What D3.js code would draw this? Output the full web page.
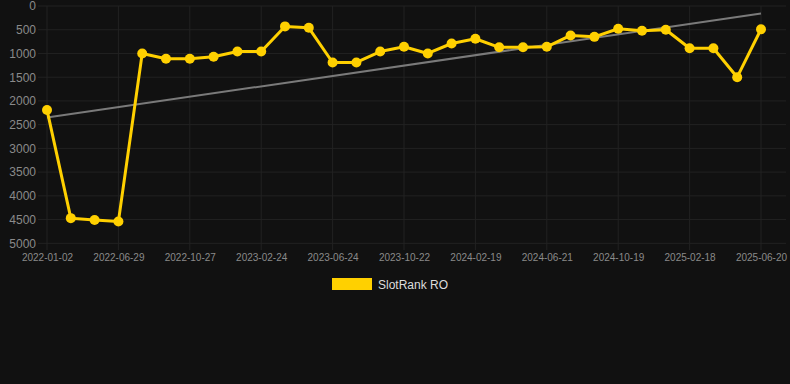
<!DOCTYPE html>
<html><head><meta charset="utf-8">
<script src="https://cdn.jsdelivr.net/npm/d3@7"></script>
<style>html,body{margin:0;padding:0;background:#111111;}svg{display:block;font-family:"Liberation Sans",Arial,Helvetica,sans-serif;}</style>
</head><body>
<svg id="c" width="790" height="384"></svg>
<script>
const dates = ["2022-01-02","2022-03-01","2022-04-30","2022-06-29","2022-08-08","2022-09-17","2022-10-27","2022-12-06","2023-01-15","2023-02-24","2023-04-05","2023-05-15","2023-06-24","2023-08-03","2023-09-12","2023-10-22","2023-12-01","2024-01-10","2024-02-19","2024-03-30","2024-05-11","2024-06-21","2024-07-31","2024-09-09","2024-10-19","2024-11-28","2025-01-08","2025-02-18","2025-03-30","2025-05-10","2025-06-20"];
const ranks = [2190,4470,4510,4540,1000,1110,1110,1070,960,960,430,460,1190,1190,960,860,1000,790,690,870,870,860,620,650,480,520,500,890,890,1500,490];
const trend = [2350,160];
const yTicks = [0,500,1000,1500,2000,2500,3000,3500,4000,4500,5000];
const seriesName = "SlotRank RO";

const svg = d3.select("#c");
const x = d3.scalePoint().domain(dates).range([47,761]);
const y = d3.scaleLinear().domain([0,5000]).range([6,243.3]);
const xTicks = dates.filter((d,i)=>i%3===0);

const grid = svg.append("g");
grid.selectAll("line.h").data(yTicks).join("line")
  .attr("x1",38).attr("x2",786).attr("y1",d=>y(d)).attr("y2",d=>y(d))
  .attr("stroke","#222222").attr("stroke-width",1);
grid.selectAll("line.v").data(xTicks).join("line")
  .attr("x1",d=>x(d)).attr("x2",d=>x(d)).attr("y1",6).attr("y2",250)
  .attr("stroke","#222222").attr("stroke-width",1);

const yAxis = svg.append("g").attr("transform","translate(38,0)")
  .call(d3.axisLeft(y).tickValues(yTicks).tickFormat(d3.format("d")).tickSize(0).tickPadding(2));
yAxis.select(".domain").remove();
yAxis.selectAll("text").attr("fill","#8a8a8a").attr("font-size","12px");

const xAxis = svg.append("g").attr("transform","translate(0,249)")
  .call(d3.axisBottom(x).tickValues(xTicks).tickSize(0).tickPadding(5));
xAxis.select(".domain").remove();
xAxis.selectAll("text").attr("fill","#8a8a8a").attr("font-size","10px");

svg.append("line")
  .attr("x1",x(dates[0])).attr("y1",y(trend[0]))
  .attr("x2",x(dates[dates.length-1])).attr("y2",y(trend[1]))
  .attr("stroke","#7a7a7a").attr("stroke-width",2);

const line = d3.line().x((d,i)=>x(dates[i])).y(d=>y(d));
svg.append("path").datum(ranks).attr("d",line)
  .attr("fill","none").attr("stroke","#ffd000").attr("stroke-width",3).attr("stroke-linejoin","round");
svg.selectAll("circle.p").data(ranks).join("circle")
  .attr("cx",(d,i)=>x(dates[i])).attr("cy",d=>y(d)).attr("r",5)
  .attr("fill","#ffd000");

const lg = svg.append("g");
lg.append("rect").attr("x",332).attr("y",278).attr("width",40).attr("height",12).attr("fill","#ffd000");
lg.append("text").attr("x",378).attr("y",289).attr("fill","#dddddd").attr("font-size","12px").text(seriesName);
</script>
</body></html>
